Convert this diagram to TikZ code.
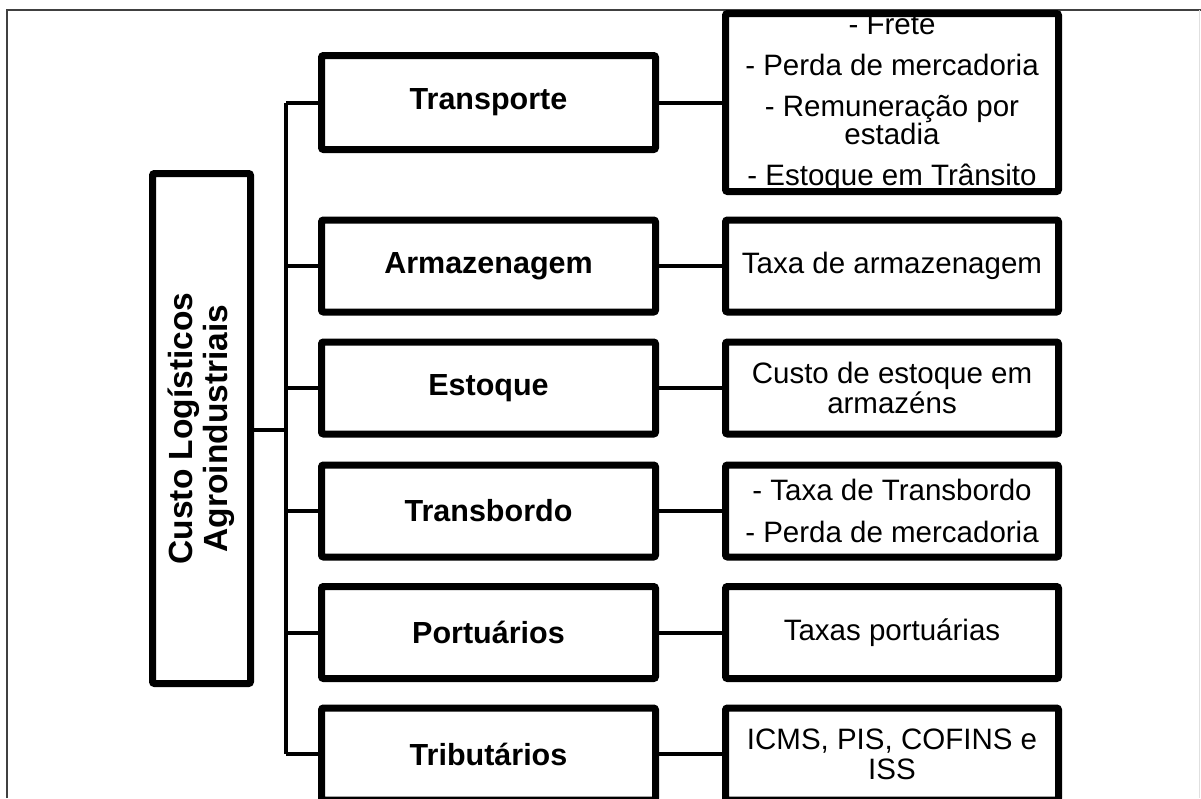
\documentclass[tikz,border=0pt]{standalone}
\usepackage{fontspec}
\setmainfont{Liberation Sans}
\usetikzlibrary{shadows}

\begin{document}
\begin{tikzpicture}[x=1pt, y=-1pt,
		caixa/.style={draw=black, line width=7pt, fill=white, rounded corners=2pt, inner sep=0pt, align=center,
			drop shadow={shadow xshift=2pt, shadow yshift=-3pt, opacity=0.22, fill=black!70}},
		tipo/.style={caixa, minimum width=334pt, minimum height=92pt, font=\bfseries\fontsize{30.5}{32}\selectfont},
		item/.style={caixa, minimum width=333pt, minimum height=92pt, font=\fontsize{29.5}{30}\selectfont},
		liga/.style={line width=4pt}]
		%%%%% START %%%%%
		
		\useasboundingbox (0, 0) rectangle (1201, 798);
		\draw[line width=1.5pt, color=black!75] (7, 798) -- (7, 10) -- (1201, 10);
		\draw[line width=1pt, color=black!12] (1199, 10) -- (1199, 798);
		
		\node[caixa, minimum width=98pt, minimum height=510pt] (custo) at (201.5, 428.5) {};
		\node[rotate=90, align=center, font=\bfseries\fontsize{33.5}{35}\selectfont] (custotxt) at (custo) {Custo Logísticos\\Agroindustriais};
		
		\node[tipo, minimum height=94pt] (transporte) at (488.5, 102.5) {Transporte};
		\node[tipo] (armazenagem) at (488.5, 266) {Armazenagem};
		\node[tipo] (estoque) at (488.5, 388) {Estoque};
		\node[tipo] (transbordo) at (488.5, 511) {Transbordo};
		\node[tipo] (portuarios) at (488.5, 632.5) {Portuários};
		\node[tipo] (tributarios) at (488.5, 754) {Tributários};
		
		\node[item, minimum height=178pt] (frete) at (892, 102.5) {- Frete\\[11pt] - Perda de mercadoria\\[11pt] - Remuneração por\\[-2pt] estadia\\[11pt] - Estoque em Trânsito};
		\node[item] (taxaarm) at (892, 266) {Taxa de armazenagem};
		\node[item] (custoarm) at (892, 388) {Custo de estoque em\\armazéns};
		\node[item] (taxatransb) at (892, 511) {- Taxa de Transbordo\\[12pt] - Perda de mercadoria};
		\node[item] (taxaport) at (892, 632.5) {Taxas portuárias};
		\node[item] (impostos) at (892, 754) {ICMS, PIS, COFINS e\\ISS};
		
		\coordinate (tronco) at (286, 430);
		\draw[liga] (custo.east |- tronco) -- (tronco);
		\draw[liga] (tronco |- transporte.west) -- (tronco |- tributarios.west);
		
		\draw[liga] (tronco |- transporte.west) -- (transporte.west);
		\draw[liga] (tronco |- armazenagem.west) -- (armazenagem.west);
		\draw[liga] (tronco |- estoque.west) -- (estoque.west);
		\draw[liga] (tronco |- transbordo.west) -- (transbordo.west);
		\draw[liga] (tronco |- portuarios.west) -- (portuarios.west);
		\draw[liga] (tronco |- tributarios.west) -- (tributarios.west);
		
		\draw[liga] (transporte.east) -- (frete.west);
		\draw[liga] (armazenagem.east) -- (taxaarm.west);
		\draw[liga] (estoque.east) -- (custoarm.west);
		\draw[liga] (transbordo.east) -- (taxatransb.west);
		\draw[liga] (portuarios.east) -- (taxaport.west);
		\draw[liga] (tributarios.east) -- (impostos.west);
		
		%%%%% END %%%%%
\end{tikzpicture}
\end{document}
